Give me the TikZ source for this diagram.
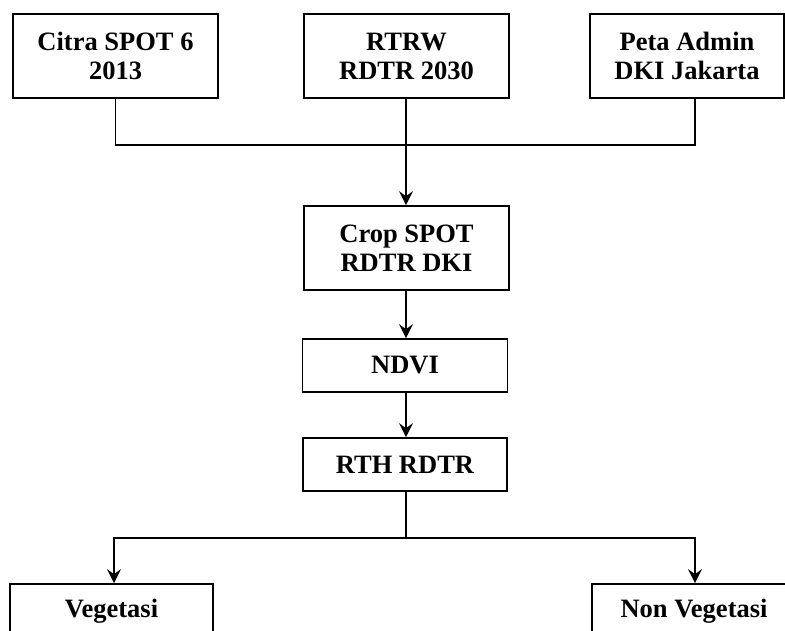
\documentclass[tikz,border=0pt]{standalone}
\usepackage{fontspec}
\setmainfont{Liberation Serif}
\usetikzlibrary{arrows.meta}
\begin{document}
\begin{tikzpicture}[x=1pt,y=-1pt,
  box/.style={draw=black,line width=1.7pt,fill=white,align=center,inner sep=0pt,
    font=\fontsize{26.5}{29}\selectfont\bfseries},
  conn/.style={draw=black,line width=1.7pt},
  arr/.style={conn,-{Stealth[length=14pt,width=14pt,inset=5pt]}}]
\useasboundingbox (0,0) rectangle (785,631);
\clip (0,0) rectangle (785,631);
\node[box,minimum width=205pt,minimum height=84pt] (b1) at (115.5,56) {Citra SPOT 6\\2013};
\node[box,minimum width=205pt,minimum height=84pt] (b2) at (406.5,56) {RTRW\\RDTR 2030};
\node[box,minimum width=194pt,minimum height=84pt] (b3) at (687,56) {Peta Admin\\DKI Jakarta};
\node[box,minimum width=205pt,minimum height=84pt] (crop) at (406.5,248) {Crop SPOT\\RDTR DKI};
\node[box,minimum width=205pt,minimum height=53pt] (ndvi) at (405,365.5) {NDVI};
\node[box,minimum width=204pt,minimum height=53pt] (rth) at (405,464.5) {RTH RDTR};
\node[box,minimum width=203pt,minimum height=54pt] (veg) at (111.5,611) {Vegetasi};
\node[box,minimum width=204pt,minimum height=54pt] (nveg) at (694,611) {Non Vegetasi};
\coordinate (j1) at (406,145);
\coordinate (j2) at (406,538);
\draw[conn] (b1.south) |- (j1) -| ([xshift=8pt]b3.south);
\draw[arr] (b2.south -| j1) -- (crop.north -| j1);
\draw[arr] (crop.south -| j1) -- (ndvi.north -| j1);
\draw[arr] (ndvi.south -| j1) -- (rth.north -| j1);
\draw[conn] (rth.south -| j2) -- (j2);
\draw[arr] (j2) -| ([xshift=2.5pt]veg.north);
\draw[arr] (j2) -| ([xshift=1pt]nveg.north);
\end{tikzpicture}
\end{document}
